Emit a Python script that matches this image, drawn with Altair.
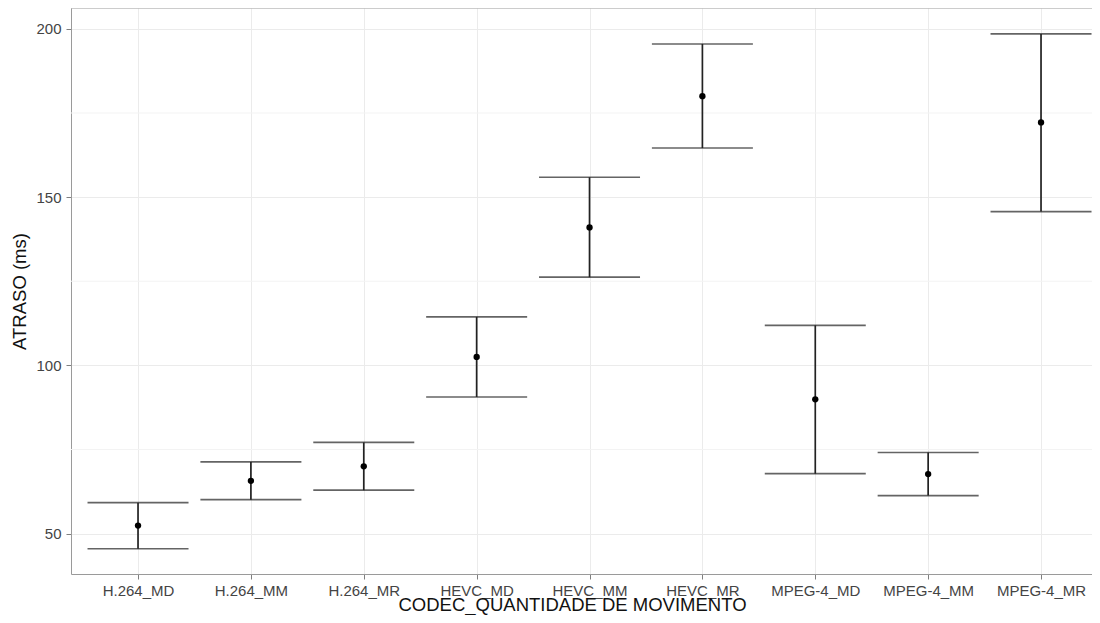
import altair as alt
import pandas as pd

categories = ["H.264_MD", "H.264_MM", "H.264_MR", "HEVC_MD", "HEVC_MM",
              "HEVC_MR", "MPEG-4_MD", "MPEG-4_MM", "MPEG-4_MR"]
means = [52.4, 65.7, 70.0, 102.5, 141.0, 180.0, 89.9, 67.7, 172.2]
lower = [45.5, 60.1, 62.9, 90.6, 126.2, 164.6, 67.8, 61.3, 145.7]
upper = [59.2, 71.3, 77.1, 114.4, 155.9, 195.5, 111.9, 74.1, 198.5]
y_ticks = [50, 100, 150, 200]
y_minor = [75, 125, 175]

df = pd.DataFrame({"codec": categories, "mean": means, "lo": lower, "hi": upper})
minor_df = pd.DataFrame({"v": y_minor})

W = 1021
H = 566
FONT = "Liberation Sans"

xscale = alt.Scale(type="point", domain=categories, padding=0.5227, align=0.568)
yscale = alt.Scale(domain=[38.0, 206.2], nice=False, zero=False)

xaxis = alt.Axis(title="CODEC_QUANTIDADE DE MOVIMENTO", labelAngle=0,
                 grid=True, gridColor="#ebebeb", gridWidth=1,
                 domainColor="#9a9a9a", tickColor="#7f7f7f", tickSize=5,
                 labelPadding=4, labelFontSize=15, labelColor="#444444",
                 labelFont=FONT, titleFont=FONT, titleFontSize=18.5,
                 titleFontWeight="normal", titleColor="#111111",
                 titlePadding=-3, titleX=501)
yaxis = alt.Axis(title="ATRASO (ms)", values=y_ticks,
                 grid=True, gridColor="#ebebeb", gridWidth=1,
                 domainColor="#9a9a9a", tickColor="#7f7f7f", tickSize=5,
                 labelPadding=5, labelFontSize=15, labelColor="#444444",
                 labelFont=FONT, titleFont=FONT, titleFontSize=18.5,
                 titleFontWeight="normal", titleColor="#111111",
                 titlePadding=6)

minor = alt.Chart(minor_df).mark_rule(color="#f3f3f3", strokeWidth=1).encode(
    y=alt.Y("v:Q", scale=yscale, axis=yaxis)
)

base = alt.Chart(df)

stem = base.mark_rule(color="#222222", strokeWidth=1.7).encode(
    x=alt.X("codec:N", scale=xscale, axis=xaxis, sort=categories),
    y=alt.Y("lo:Q", scale=yscale, axis=yaxis),
    y2="hi:Q",
)
cap_lo = base.mark_tick(color="#222222", thickness=1.7, size=101, orient="horizontal").encode(
    x=alt.X("codec:N", scale=xscale, axis=xaxis, sort=categories),
    y=alt.Y("lo:Q", scale=yscale, axis=yaxis),
)
cap_hi = base.mark_tick(color="#222222", thickness=1.7, size=101, orient="horizontal").encode(
    x=alt.X("codec:N", scale=xscale, axis=xaxis, sort=categories),
    y=alt.Y("hi:Q", scale=yscale, axis=yaxis),
)
pts = base.mark_point(filled=True, color="#000000", size=40, opacity=1).encode(
    x=alt.X("codec:N", scale=xscale, axis=xaxis, sort=categories),
    y=alt.Y("mean:Q", scale=yscale, axis=yaxis),
)
top_border = alt.Chart(alt.Data(values=[{"a": 1}])).mark_rule(
    color="#9a9a9a", strokeWidth=1
).encode(x=alt.value(0), x2=alt.value(W), y=alt.value(0))

chart = alt.layer(minor, stem, cap_lo, cap_hi, pts, top_border).properties(
    width=W, height=H,
    autosize=alt.AutoSizeParams(type="none"),
    padding={"left": 63, "top": 0, "right": 0, "bottom": 41},
    background="white",
).configure_view(stroke=None)

chart.save("out.html", embed_options={"renderer": "svg", "actions": False})
